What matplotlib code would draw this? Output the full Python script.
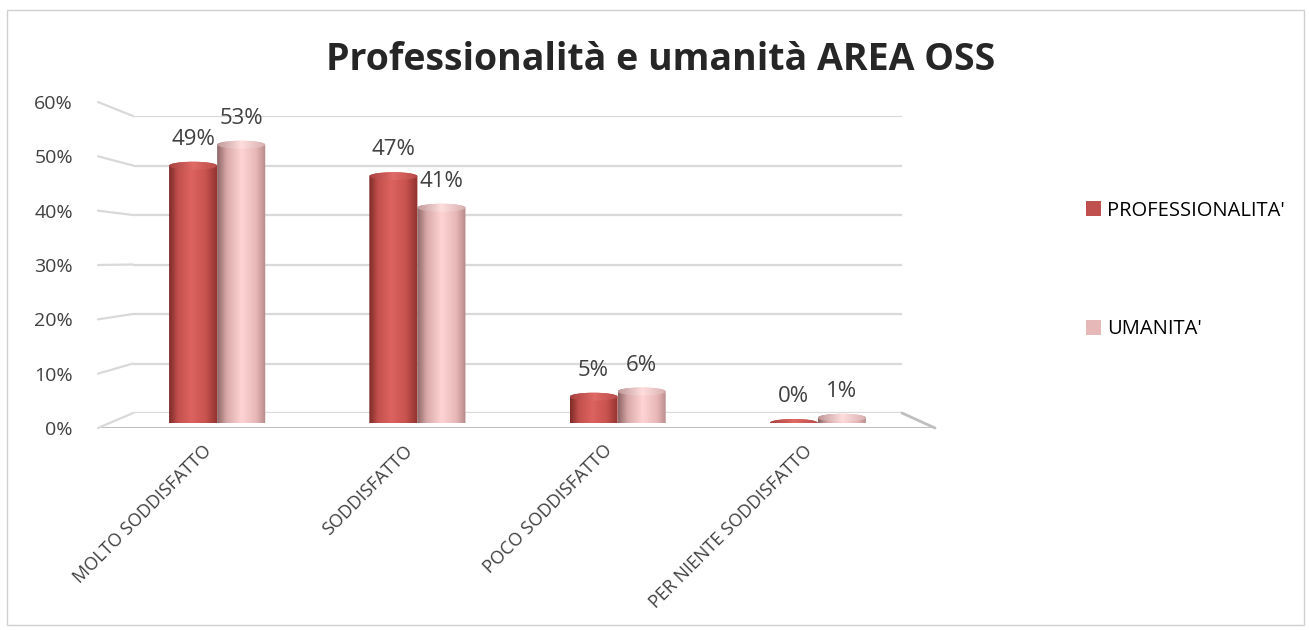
import matplotlib

matplotlib.use("Agg")
import matplotlib.pyplot as plt
import numpy as np
from matplotlib.colors import LinearSegmentedColormap
from matplotlib.patches import ConnectionPatch, Ellipse, Patch, PathPatch, Rectangle
from matplotlib.path import Path
from matplotlib.ticker import PercentFormatter
from matplotlib.transforms import ScaledTranslation

categories = ["MOLTO SODDISFATTO", "SODDISFATTO", "POCO SODDISFATTO", "PER NIENTE SODDISFATTO"]
professionalita = [0.49, 0.47, 0.05, 0.0]
umanita = [0.53, 0.41, 0.06, 0.01]
series_names = ["PROFESSIONALITA'", "UMANITA'"]
y_ticks = [0.0, 0.1, 0.2, 0.3, 0.4, 0.5, 0.6]

W, H = 1309, 630
plt.rcParams["font.family"] = ["Open Sans", "DejaVu Sans"]

body_cmaps = [
    LinearSegmentedColormap.from_list(
        "prof", [(0, "#7c2a28"), (0.18, "#c2504c"), (0.45, "#dd635f"), (0.75, "#c9534f"), (1, "#8f312e")]
    ),
    LinearSegmentedColormap.from_list(
        "uman", [(0, "#8f6666"), (0.2, "#d9a9a9"), (0.5, "#ffd4d4"), (0.8, "#e8b8b8"), (1, "#b58888")]
    ),
]
cap_cmaps = [
    LinearSegmentedColormap.from_list("prof_cap", ["#a84140", "#e06a66", "#b84a47"]),
    LinearSegmentedColormap.from_list("uman_cap", ["#c09898", "#ffdede", "#d8aeae"]),
]
legend_colors = ["#c0504d", "#e6b9b8"]
grid_color = "#d9d9d9"
text_color = "#404040"


def box(left, top, right, bottom):
    return [left / W, 1 - bottom / H, (right - left) / W, (bottom - top) / H]


fig = plt.figure(figsize=(W / 100, H / 100), dpi=100)
fig.patches.append(
    Rectangle((7 / W, 5 / H), 1297 / W, 615 / H, transform=fig.transFigure,
              fill=False, edgecolor="#d0d0d0", linewidth=1)
)

# back wall grid
ax_back = fig.add_axes(box(133, 116, 902, 413))
ax_back.set_ylim(0, 0.6)
ax_back.set_xlim(0, 1)
for v in y_ticks:
    ax_back.axhline(v, color=grid_color, linewidth=1.6)
ax_back.axis("off")

# front plane with the y labels and floor edge
ax_front = fig.add_axes(box(98, 102, 935, 428))
ax_front.set_ylim(0, 0.6)
ax_front.set_xlim(0, 1)
ax_front.set_facecolor("none")
for side in ax_front.spines.values():
    side.set_visible(False)
ax_front.set_xticks([])
ax_front.set_yticks(y_ticks)
ax_front.yaxis.set_major_formatter(PercentFormatter(1.0, decimals=0))
ax_front.tick_params(axis="y", length=0, pad=18, labelsize=14, labelcolor=text_color)
ax_front.axhline(0, color="#bfbfbf", linewidth=2.2)

for v in y_ticks:
    fig.add_artist(ConnectionPatch(
        xyA=(0, v), coordsA=ax_front.get_yaxis_transform(),
        xyB=(0, v), coordsB=ax_back.get_yaxis_transform(),
        color=grid_color, linewidth=1.6))
fig.add_artist(ConnectionPatch(
    xyA=(1, 0), coordsA=ax_front.transData,
    xyB=(1, 0), coordsB=ax_back.transData,
    color="#bfbfbf", linewidth=2))

# bars
ax_bar = fig.add_axes(box(98, 108, 935, 423))
ax_bar.set_facecolor("none")
ax_bar.set_ylim(0, 0.6)
ax_bar.set_xlim(-0.595, 3.585)
for side in ax_bar.spines.values():
    side.set_visible(False)
ax_bar.set_yticks([])

x = np.arange(len(categories))
width = 0.24
ey = 8 * 0.6 / 315  # ellipse height in data units
grad = np.linspace(0, 1, 128).reshape(1, -1)

for i, values in enumerate([professionalita, umanita]):
    offset = (i - 0.5) * width
    bars = ax_bar.bar(x + offset, values, width, color="none", edgecolor="none")
    for rect, val in zip(bars, values):
        x0, w, h = rect.get_x(), rect.get_width(), rect.get_height()
        cx = x0 + w / 2
        t_low = np.linspace(np.pi, 2 * np.pi, 40)
        t_up = np.linspace(0, np.pi, 40)
        bottom = np.column_stack([cx + w / 2 * np.cos(t_low), ey / 2 * np.sin(t_low)])
        top = np.column_stack([cx + w / 2 * np.cos(t_up), h + ey / 2 * np.sin(t_up)])
        verts = np.vstack([bottom, top, bottom[:1]])
        shape = PathPatch(Path(verts), facecolor="none", edgecolor="none")
        ax_bar.add_patch(shape)
        img = ax_bar.imshow(grad, cmap=body_cmaps[i], aspect="auto",
                            extent=(x0, x0 + w, -ey, h + ey), zorder=2, interpolation="bicubic")
        img.set_clip_path(shape)
        cap = Ellipse((cx, h), w, ey, facecolor="none", edgecolor="none")
        ax_bar.add_patch(cap)
        cimg = ax_bar.imshow(grad, cmap=cap_cmaps[i], aspect="auto",
                             extent=(x0, x0 + w, h - ey, h + ey), zorder=3, interpolation="bicubic")
        cimg.set_clip_path(cap)
        ax_bar.annotate(f"{val:.0%}", xy=(cx, h), xytext=(0, 19), textcoords="offset points",
                        ha="center", va="center", fontsize=16, color=text_color)

ax_bar.set_xticks(x)
ax_bar.set_xticklabels(categories, rotation=45, ha="right", va="center", rotation_mode="anchor",
                       fontsize=13, color=text_color)
ax_bar.tick_params(axis="x", length=0, pad=18)
shift = ScaledTranslation(-8 / 100, 0, fig.dpi_scale_trans)
for label in ax_bar.get_xticklabels():
    label.set_transform(label.get_transform() + shift)

fig.text(0.505, 1 - 60 / H, "Professionalità e umanità AREA OSS", ha="center", va="center",
         fontsize=27, fontweight="bold", color="#262626")

handles = [Patch(facecolor=c, edgecolor="none") for c in legend_colors]
fig.legend(handles, series_names, loc="center left", bbox_to_anchor=(1068 / W, 1 - 270 / H),
           frameon=False, fontsize=14.5, labelspacing=4.9, handlelength=0.75, handleheight=0.75,
           handletextpad=0.3)

fig.savefig("out.png", dpi=100)
plt.close(fig)
